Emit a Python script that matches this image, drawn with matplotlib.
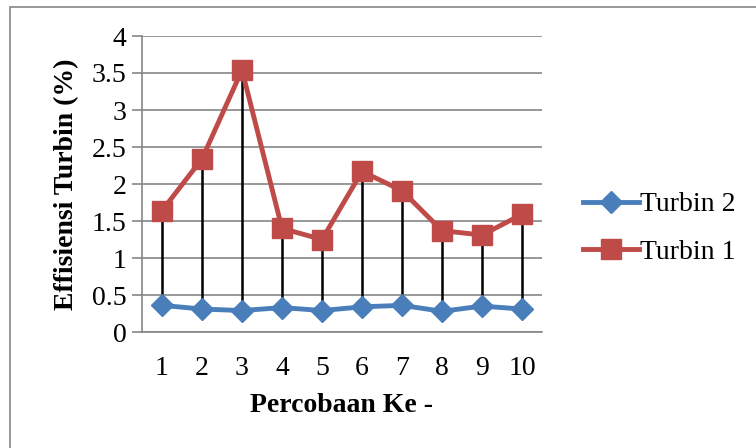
import matplotlib.pyplot as plt
from matplotlib.patches import Rectangle

percobaan = [1, 2, 3, 4, 5, 6, 7, 8, 9, 10]
turbin_2 = [0.36, 0.31, 0.29, 0.33, 0.29, 0.34, 0.36, 0.28, 0.35, 0.31]
turbin_1 = [1.64, 2.34, 3.54, 1.40, 1.25, 2.17, 1.91, 1.37, 1.31, 1.59]
y_ticks = [0, 0.5, 1, 1.5, 2, 2.5, 3, 3.5, 4]
y_labels = ['0', '0.5', '1', '1.5', '2', '2.5', '3', '3.5', '4']

plt.rcParams['font.family'] = ['Liberation Serif', 'DejaVu Serif']

fig = plt.figure(figsize=(7.56, 4.48), dpi=100)
ax = fig.add_axes([142 / 756, 1 - 332 / 448, 400 / 756, 296 / 448])

# outer chart border (only top and left edges fall inside the picture)
fig.patches.append(Rectangle((10 / 756, -0.1), 1.2, 1.1 - 7 / 448,
                             transform=fig.transFigure, fill=False,
                             edgecolor='#868686', linewidth=1.2))

# drop lines
ax.vlines(percobaan, turbin_2, turbin_1, color='black', linewidth=1.8, zorder=3)

ax.plot(percobaan, turbin_2, '-D', color='#4A7EBB', linewidth=3.5, markersize=11,
        label='Turbin 2', zorder=4)
ax.plot(percobaan, turbin_1, '-s', color='#BE4B48', linewidth=3.5, markersize=14.5,
        label='Turbin 1', zorder=4)

ax.set_xlim(0.5, 10.5)
ax.set_ylim(0, 4)
ax.set_yticks(y_ticks)
ax.set_yticklabels(y_labels)
ax.set_xticks(percobaan)
ax.grid(axis='y', color='#868686', linewidth=1.2)
ax.set_axisbelow(True)
for s in ['top', 'right']:
    ax.spines[s].set_visible(False)
ax.spines['left'].set_color('#868686')
ax.spines['bottom'].set_color('#868686')
ax.spines['left'].set_linewidth(1.2)
ax.spines['bottom'].set_linewidth(1.2)
ax.tick_params(axis='y', length=7, color='#868686', width=1.2, labelsize=20, pad=4)
ax.tick_params(axis='x', length=0, labelsize=20, pad=17)

ax.set_ylabel('Effisiensi Turbin (%)', fontsize=20, fontweight='bold', labelpad=9)
ax.set_xlabel('Percobaan Ke -', fontsize=20, fontweight='bold', labelpad=9)

ax.legend(loc='center left', bbox_to_anchor=(1.075, 0.35), frameon=False,
          fontsize=20, handlelength=2.0, handletextpad=0.05, labelspacing=0.8,
          borderaxespad=0)

fig.savefig('out.png', dpi=100)
